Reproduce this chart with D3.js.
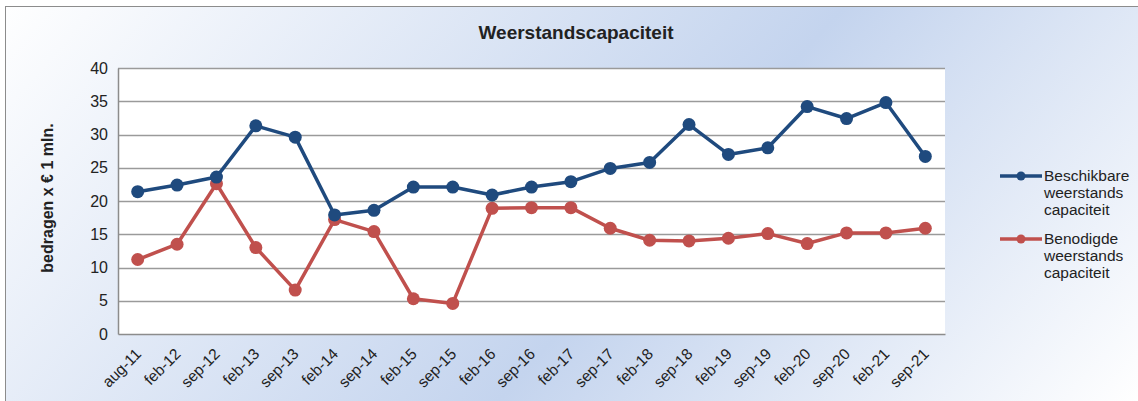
<!DOCTYPE html>
<html>
<head>
<meta charset="utf-8">
<script src="https://cdn.jsdelivr.net/npm/d3@7"></script>
<style>
  body { margin: 0; background: #fff; }
  text { font-family: "Liberation Sans", Arial, sans-serif; fill: #222; }
</style>
</head>
<body>
<svg width="1138" height="401"></svg>
<script>
var categories = ["aug-11", "feb-12", "sep-12", "feb-13", "sep-13", "feb-14", "sep-14", "feb-15", "sep-15", "feb-16",
  "sep-16", "feb-17", "sep-17", "feb-18", "sep-18", "feb-19", "sep-19", "feb-20", "sep-20", "feb-21", "sep-21"];
var beschikbaar = [21.4, 22.4, 23.6, 31.3, 29.6, 17.9, 18.6, 22.1, 22.1, 20.9,
  22.1, 22.9, 24.9, 25.8, 31.5, 27.0, 28.0, 34.2, 32.4, 34.8, 26.7];
var benodigd = [11.2, 13.5, 22.6, 13.0, 6.6, 17.2, 15.4, 5.3, 4.6, 18.9,
  19.0, 19.0, 15.9, 14.1, 14.0, 14.4, 15.1, 13.6, 15.2, 15.2, 15.9];
var yTicks = [0, 5, 10, 15, 20, 25, 30, 35, 40];
var seriesNames = ["Beschikbare weerstands capaciteit", "Benodigde weerstands capaciteit"];

var svg = d3.select("svg"),
  width = +svg.attr("width"),
  height = +svg.attr("height");

var margin = { left: 118, top: 68, right: 945, bottom: 334 };

// background gradient
var defs = svg.append("defs");
var grad = defs.append("linearGradient")
  .attr("id", "bg")
  .attr("gradientUnits", "userSpaceOnUse")
  .attr("x1", 0).attr("y1", 0)
  .attr("x2", 844).attr("y2", 739);
grad.append("stop").attr("offset", 0).attr("stop-color", "#ffffff");
grad.append("stop").attr("offset", 0.57).attr("stop-color", "#c4d4ee");
grad.append("stop").attr("offset", 1).attr("stop-color", "#ffffff");

svg.append("rect")
  .attr("x", 5.5).attr("y", 6.5)
  .attr("width", width).attr("height", height)
  .attr("fill", "url(#bg)")
  .attr("stroke", "#8c8c8c");

var x = d3.scalePoint()
  .domain(categories)
  .range([margin.left, margin.right])
  .padding(0.5);

var y = d3.scaleLinear()
  .domain([0, 40])
  .range([margin.bottom, margin.top]);

svg.append("rect")
  .attr("x", margin.left).attr("y", margin.top)
  .attr("width", margin.right - margin.left)
  .attr("height", margin.bottom - margin.top)
  .attr("fill", "#fff");

// gridlines
svg.append("g")
  .selectAll("line")
  .data(yTicks.slice(1))
  .enter().append("line")
  .attr("x1", margin.left).attr("x2", margin.right)
  .attr("y1", function (d) { return Math.round(y(d)) + 0.5; })
  .attr("y2", function (d) { return Math.round(y(d)) + 0.5; })
  .attr("stroke", "#9a9a9a")
  .attr("stroke-width", 1.3);

// y axis
var yAxis = svg.append("g")
  .attr("transform", "translate(" + margin.left + ",0)")
  .call(d3.axisLeft(y).tickValues(yTicks).tickSize(0).tickPadding(10));
yAxis.select(".domain").attr("stroke", "#8c8c8c").attr("stroke-width", 1.5);
yAxis.selectAll("text")
  .style("font-size", "16px")
  .style("font-family", "'Liberation Sans', Arial, sans-serif")
  .attr("fill", "#333");

// x axis
var xAxis = svg.append("g")
  .attr("transform", "translate(0," + margin.bottom + ")")
  .call(d3.axisBottom(x).tickSize(0).tickPadding(0));
xAxis.select(".domain").attr("stroke", "#8c8c8c").attr("stroke-width", 1.5);
xAxis.selectAll("text")
  .style("font-size", "15.5px")
  .style("font-family", "'Liberation Sans', Arial, sans-serif")
  .attr("fill", "#333")
  .attr("text-anchor", "end")
  .attr("dy", 0)
  .attr("y", 0)
  .attr("transform", "translate(4,21) rotate(-45)");

// lines
var line = d3.line()
  .x(function (d, i) { return x(categories[i]); })
  .y(function (d) { return y(d); });

var series = [
  { name: seriesNames[0], values: beschikbaar, color: "#1f4a7e" },
  { name: seriesNames[1], values: benodigd, color: "#c0504d" }
];

series.slice().reverse().forEach(function (s) {
  var g = svg.append("g");
  g.append("path")
    .attr("d", line(s.values))
    .attr("fill", "none")
    .attr("stroke", s.color)
    .attr("stroke-width", 3.5)
    .attr("stroke-linejoin", "round");
  g.selectAll("circle")
    .data(s.values)
    .enter().append("circle")
    .attr("cx", function (d, i) { return x(categories[i]); })
    .attr("cy", function (d) { return y(d); })
    .attr("r", 6.5)
    .attr("fill", s.color);
});

// title
svg.append("text")
  .attr("x", 576).attr("y", 39)
  .attr("text-anchor", "middle")
  .style("font-size", "19px")
  .style("font-weight", "bold")
  .text("Weerstandscapaciteit");

// y label
svg.append("text")
  .attr("transform", "translate(53,198) rotate(-90)")
  .attr("text-anchor", "middle")
  .style("font-size", "16px")
  .style("font-weight", "bold")
  .text("bedragen x € 1 mln.");

// legend
var legend = svg.append("g")
  .selectAll("g")
  .data(series)
  .enter().append("g")
  .attr("transform", function (d, i) { return "translate(1000," + (176 + i * 63) + ")"; });

legend.append("line")
  .attr("x1", 0).attr("x2", 42)
  .attr("stroke", function (d) { return d.color; })
  .attr("stroke-width", 3.5);

legend.append("circle")
  .attr("cx", 21).attr("r", 4.5)
  .attr("fill", function (d) { return d.color; });

legend.append("text")
  .attr("x", 44)
  .attr("y", 0)
  .style("font-size", "15.5px")
  .selectAll("tspan")
  .data(function (d) { return d.name.split(" "); })
  .enter().append("tspan")
  .attr("x", 44)
  .attr("dy", function (d, i) { return i === 0 ? "0.35em" : "17px"; })
  .text(function (d) { return d; });
</script>
</body>
</html>
